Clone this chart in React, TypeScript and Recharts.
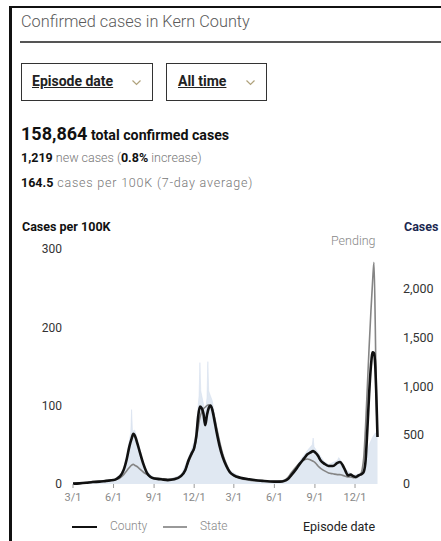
import React from "react";
import { ComposedChart, Line, Area, XAxis, YAxis } from "recharts";

// Day index counted from 2020-03-01
const xTickDays = [0, 92, 184, 275, 365, 457, 549, 640];
const xTickLabels = ["3/1", "6/1", "9/1", "12/1", "3/1", "6/1", "9/1", "12/1"];
const leftTicks = [0, 100, 200, 300];
const rightTicks = [0, 500, 1000, 1500, 2000];

const lineDays = [0, 15, 30, 45, 60, 75, 92, 100, 107, 115, 122, 128, 133, 137, 140, 146, 152, 160, 168, 176, 184, 200, 215, 230, 245, 255, 262, 270, 275, 280, 284, 288, 292, 296, 300, 304, 308, 312, 316, 320, 326, 332, 340, 348, 356, 365, 380, 400, 430, 457, 470, 480, 487, 495, 505, 515, 525, 532, 538, 545, 550, 556, 562, 570, 580, 590, 600, 606, 612, 618, 624, 630, 636, 642, 648, 652, 656, 660, 664, 668, 672, 676, 680, 683, 686, 688, 691];
const countyPer100k = [0.5, 0.8, 1.5, 2.5, 3, 4, 5, 7, 10, 18, 32, 48, 58, 64, 62, 52, 40, 25, 14, 9, 7, 6, 5, 6, 10, 18, 30, 40, 46, 62, 86, 99, 97, 90, 75, 88, 97, 100, 95, 84, 66, 50, 34, 23, 15, 11, 8, 6, 4, 3, 3, 4, 6, 11, 18, 26, 33, 38, 40, 42, 40, 36, 30, 26, 23, 23, 27, 28, 24, 17, 11, 12, 10, 9, 11, 12, 13, 16, 30, 70, 115, 150, 168, 167, 150, 120, 60];
const statePer100k = [0.5, 1, 2, 3, 3.5, 4, 5, 6, 8, 12, 17, 21, 24, 25, 24, 22, 19, 15, 12, 9, 8, 7, 6, 7, 11, 18, 28, 38, 45, 58, 72, 85, 92, 96, 98, 100, 101, 100, 96, 88, 72, 56, 38, 25, 16, 11, 7, 5, 3.5, 3, 3.5, 5, 8, 14, 21, 27, 31, 32, 31, 29, 27, 23, 20, 17, 14, 13, 12, 12, 11, 10, 9, 9, 8, 8, 10, 12, 18, 35, 75, 125, 175, 220, 260, 283, 200, 120, 60];

const barDays = [0, 30, 60, 92, 107, 115, 122, 128, 131, 133, 135, 140, 146, 152, 160, 168, 184, 215, 245, 262, 270, 278, 284, 286, 288, 290, 296, 300, 304, 306, 308, 312, 316, 326, 340, 356, 380, 430, 470, 487, 505, 515, 525, 535, 543, 545, 547, 556, 570, 580, 600, 603, 606, 618, 636, 656, 664, 672, 680, 686, 691];
const dailyCases = [2, 12, 28, 45, 90, 160, 300, 450, 520, 760, 540, 550, 460, 350, 220, 130, 60, 45, 90, 270, 370, 480, 800, 900, 1240, 950, 820, 700, 880, 1250, 950, 900, 850, 580, 300, 140, 70, 35, 30, 55, 160, 240, 300, 360, 400, 470, 380, 320, 230, 200, 240, 270, 250, 150, 90, 110, 250, 400, 480, 520, 520];

type Row = { day: number; county?: number; state?: number; cases?: number };
const rowMap = new Map<number, Row>();
lineDays.forEach((d, i) => {
  const r = rowMap.get(d) || { day: d };
  r.county = countyPer100k[i];
  r.state = statePer100k[i];
  rowMap.set(d, r);
});
barDays.forEach((d, i) => {
  const r = rowMap.get(d) || { day: d };
  r.cases = dailyCases[i];
  rowMap.set(d, r);
});
const data = Array.from(rowMap.values()).sort((a, b) => a.day - b.day);

const font = "Roboto, 'Noto Sans', sans-serif";

const abs = (x: number, y: number, extra: React.CSSProperties = {}): React.CSSProperties => ({
  position: "absolute",
  left: x,
  top: y,
  whiteSpace: "nowrap",
  ...extra,
});

const Chevron = ({ x, y }: { x: number; y: number }) => (
  <svg style={abs(x, y)} width={9} height={6}>
    <polyline points="0.5,0.5 4.5,4.5 8.5,0.5" fill="none" stroke="#b0a27c" strokeWidth={1.2} />
  </svg>
);

export default function App() {
  return (
    <div style={{ position: "absolute", left: 0, top: 0, width: 441, height: 541, background: "#fff", fontFamily: font, overflow: "hidden" }}>
      {/* frame */}
      <div style={abs(10, 6, { width: 431, height: 2, background: "#111" })} />
      <div style={abs(9, 6, { width: 3, height: 535, background: "#111" })} />
      {/* title */}
      <div style={abs(21, 12, { fontSize: 16.3, fontWeight: 300, color: "#5a5a5a", lineHeight: "20px" })}>
        Confirmed cases in Kern County
      </div>
      <div style={abs(20, 41, { width: 421, height: 2, background: "#555" })} />
      {/* dropdowns */}
      <div style={abs(21, 63, { width: 130, height: 36, border: "1.6px solid #333", boxSizing: "content-box" })} />
      <div style={abs(32, 73, { fontSize: 14, fontWeight: 700, color: "#222", textDecoration: "underline", lineHeight: "17px" })}>
        Episode date
      </div>
      <Chevron x={132} y={80} />
      <div style={abs(166, 63, { width: 99, height: 36, border: "1.6px solid #333", boxSizing: "content-box" })} />
      <div style={abs(178, 73, { fontSize: 14, fontWeight: 700, color: "#222", textDecoration: "underline", lineHeight: "17px" })}>
        All time
      </div>
      <Chevron x={246} y={80} />
      {/* stats */}
      <div style={abs(21, 124, { color: "#111", lineHeight: "20px" })}>
        <span style={{ fontSize: 18, fontWeight: 700 }}>158,864</span>
        <span style={{ fontSize: 14.2, fontWeight: 700 }}> total confirmed cases</span>
      </div>
      <div style={abs(21, 150, { fontSize: 12.5, color: "#777", lineHeight: "16px", fontWeight: 300 })}>
        <span style={{ fontWeight: 700, color: "#111" }}>1,219</span> new cases (
        <span style={{ fontWeight: 700, color: "#111" }}>0.8%</span> increase)
      </div>
      <div style={abs(21, 175, { fontSize: 12.5, color: "#777", lineHeight: "16px", fontWeight: 300 })}>
        <span style={{ fontWeight: 700, color: "#111" }}>164.5</span>
        <span style={{ letterSpacing: 0.8 }}> cases per 100K (7-day average)</span>
      </div>
      {/* axis headers */}
      <div style={abs(22, 219, { fontSize: 12.5, fontWeight: 700, color: "#111", lineHeight: "15px" })}>Cases per 100K</div>
      <div style={abs(404, 219, { fontSize: 12.5, fontWeight: 700, color: "#1c2850", lineHeight: "15px" })}>Cases</div>
      <div style={abs(331, 233, { fontSize: 12.5, fontWeight: 300, color: "#888", lineHeight: "15px" })}>Pending</div>
      {/* chart */}
      <div style={abs(0, 0)}>
        <ComposedChart width={441} height={541} data={data} margin={{ top: 249, right: 23.5, bottom: 37, left: 33 }}>
          <XAxis
            dataKey="day"
            type="number"
            domain={[0, 691]}
            ticks={xTickDays}
            tickFormatter={(v: number, i: number) => xTickLabels[i] ?? String(v)}
            axisLine={false}
            tickLine={{ stroke: "#999" }}
            tickSize={4}
            tickMargin={5}
            height={20}
            tick={{ fontSize: 11, fill: "#888", fontFamily: font }}
            interval={0}
          />
          <YAxis
            yAxisId="left"
            orientation="left"
            domain={[0, 300]}
            ticks={leftTicks}
            width={40}
            axisLine={false}
            tickLine={false}
            tickSize={0}
            tickMargin={11}
            tick={{ fontSize: 12, fill: "#333", fontFamily: font }}
            interval={0}
          />
          <YAxis
            yAxisId="right"
            orientation="right"
            domain={[0, 2400]}
            ticks={rightTicks}
            width={40}
            axisLine={false}
            tickLine={false}
            tickSize={0}
            tickMargin={25.5}
            tickFormatter={(v: number) => v.toLocaleString("en-US")}
            tick={{ fontSize: 12.5, fill: "#333", fontFamily: font, textAnchor: "start" }}
            interval={0}
          />
          <Area
            yAxisId="right"
            dataKey="cases"
            type="linear"
            fill="#e0e8f2"
            fillOpacity={1}
            stroke="#d3dded"
            strokeWidth={0.5}
            connectNulls
            isAnimationActive={false}
            dot={false}
            activeDot={false}
          />
          <Line
            yAxisId="left"
            dataKey="state"
            type="monotone"
            stroke="#858585"
            strokeWidth={1.6}
            dot={false}
            activeDot={false}
            connectNulls
            isAnimationActive={false}
          />
          <Line
            yAxisId="left"
            dataKey="county"
            type="monotone"
            stroke="#111"
            strokeWidth={2.6}
            dot={false}
            activeDot={false}
            connectNulls
            isAnimationActive={false}
          />
        </ComposedChart>
      </div>
      {/* legend */}
      <div style={abs(72, 526, { width: 25, height: 2, background: "#111" })} />
      <div style={abs(110, 519, { fontSize: 12, fontWeight: 300, color: "#888", lineHeight: "15px" })}>County</div>
      <div style={abs(163, 526, { width: 24, height: 1.5, background: "#999" })} />
      <div style={abs(200, 519, { fontSize: 12, fontWeight: 300, color: "#888", lineHeight: "15px" })}>State</div>
      <div style={abs(303, 519, { fontSize: 12.5, color: "#222", lineHeight: "15px" })}>Episode date</div>
    </div>
  );
}
